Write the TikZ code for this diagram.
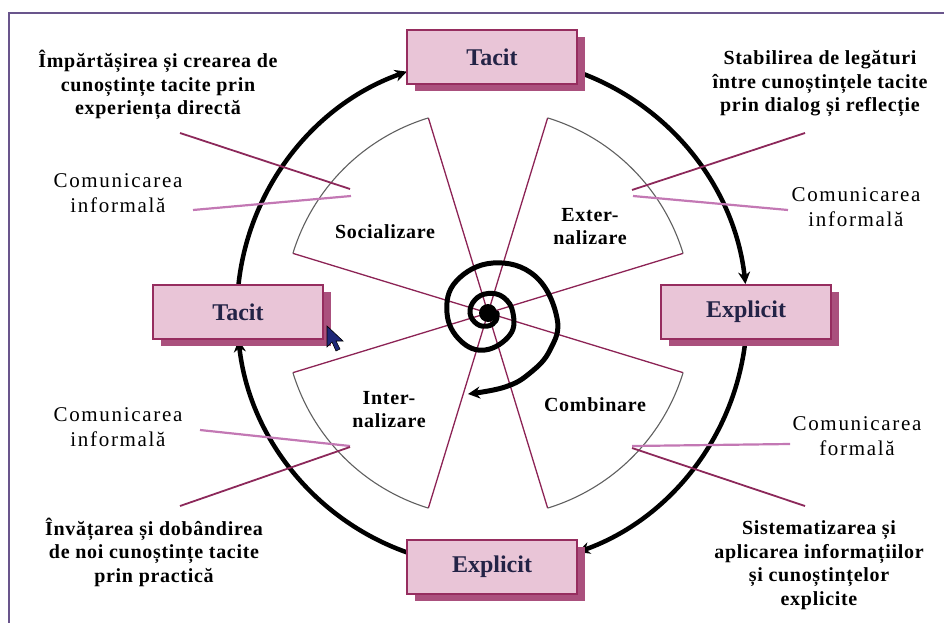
\documentclass[tikz,border=0pt]{standalone}
\usepackage{fontspec}
\setmainfont{Liberation Serif}
\newfontfamily\descfont[LetterSpace=3.5]{Liberation Serif}
\newfontfamily\commfont[LetterSpace=8]{Liberation Serif}
\usetikzlibrary{arrows.meta,shadows}
\definecolor{framecol}{RGB}{105,85,140}
\definecolor{raycol}{RGB}{140,35,85}
\definecolor{rimcol}{RGB}{95,95,95}
\definecolor{darkpin}{RGB}{140,40,90}
\definecolor{lightpin}{RGB}{195,120,180}
\definecolor{boxfill}{RGB}{233,197,215}
\definecolor{boxedge}{RGB}{150,45,95}
\definecolor{boxshade}{RGB}{170,80,125}
\definecolor{txtcol}{RGB}{35,35,70}
\definecolor{cursorcol}{RGB}{30,40,120}
\begin{document}
\begin{tikzpicture}[x=1pt,y=-1pt,
    cyc/.style={line width=4.5pt,-{Stealth[length=12pt,width=12pt]}},
    coil/.style={line width=5pt,line cap=round,-{Stealth[length=12pt,width=12pt]}},
    stage/.style={draw=boxedge,line width=1.1pt,fill=boxfill,minimum width=170pt,
        minimum height=54pt,text=txtcol,font=\bfseries\fontsize{24}{28}\selectfont,
        general shadow={fill=boxshade,shadow xshift=8pt,shadow yshift=-7pt}},
    ray/.style={draw=raycol,line width=1.3pt},
    rim/.style={draw=rimcol,line width=1.1pt},
    desc/.style={align=center,font=\descfont\bfseries\fontsize{20}{23.5}\selectfont},
    comm/.style={align=center,font=\commfont\fontsize{21}{25}\selectfont},
    sect/.style={align=center,font=\descfont\bfseries\fontsize{20}{23}\selectfont},
    dpin/.style={draw=darkpin,line width=1.8pt},
    lpin/.style={draw=lightpin,line width=2.2pt}]
    \useasboundingbox (0,0) rectangle (944,623);
    \draw[framecol,line width=1.5pt] (9,623) -- (9,13) -- (944,13);

    \coordinate (o) at (488,313);
    \coordinate (c) at (492,312);

    % the four sectors
    \foreach \a in {45,135,225,315}{
        \draw[ray] (o) -- ([shift={(\a-28:204)}]o);
        \draw[ray] (o) -- ([shift={(\a+28:204)}]o);
        \draw[rim] ([shift={(\a-28:204)}]o) arc[start angle=\a-28,end angle=\a+28,radius=204];
    }

    % cycle round the boxes
    \draw[cyc] ([shift={(-70.5:255)}]c) arc[start angle=-70.5,end angle=-6.3,radius=255];
    \draw[cyc] ([shift={(6.1:255)}]c) arc[start angle=6.1,end angle=70.3,radius=255];
    \draw[cyc] ([shift={(109.5:255)}]c) arc[start angle=109.5,end angle=173.7,radius=255];
    \draw[cyc] ([shift={(186.3:255)}]c) arc[start angle=186.3,end angle=250.5,radius=255];

    \node[stage] (tacitTop) at (492,57) {Tacit};
    \node[stage] (tacitLeft) at (238,312) {Tacit};
    \node[stage] (explRight) at (746,312) {Explicit};
    \node[stage] (explBottom) at (492,567) {Explicit};

    % texts
    \node[desc] (share) at (158,85) {Împărtășirea și crearea de\\cunoștințe tacite prin\\experiența directă};
    \node[comm] (comm1) at (118,193) {Comunicarea\\informală};
    \node[desc] (linkage) at (820,84) {Stabilirea de legături\\între cunoștințele tacite\\prin dialog și reflecție};
    \node[comm] (comm2) at (856,207) {Comunicarea\\informală};
    \node[comm] (comm3) at (118,427) {Comunicarea\\informală};
    \node[desc] (learn) at (154,552) {Învățarea și dobândirea\\de noi cunoștințe tacite\\prin practică};
    \node[comm] (comm4) at (857,436) {Comunicarea\\formală};
    \node[desc] (system) at (819,565) {Sistematizarea și\\aplicarea informațiilor\\și cunoștințelor\\explicite};

    \node[sect] (soc) at (385,232) {Socializare};
    \node[sect] (ext) at (590,227) {Exter-\\nalizare};
    \node[sect] (intl) at (389,410) {Inter-\\nalizare};
    \node[sect] (comb) at (595,405) {Combinare};

    % pointer lines
    \coordinate (sh1) at (180,133); \coordinate (sh2) at (350,189);
    \coordinate (ci1) at (193,210); \coordinate (ci2) at (351,196);
    \coordinate (li1) at (805,133); \coordinate (li2) at (632,190);
    \coordinate (cj1) at (788,210); \coordinate (cj2) at (633,196);
    \coordinate (ck1) at (200,430); \coordinate (ck2) at (350,446);
    \coordinate (le1) at (180,506); \coordinate (le2) at (350,447);
    \coordinate (cf1) at (790,444); \coordinate (cf2) at (632,446);
    \coordinate (sy1) at (805,506); \coordinate (sy2) at (632,448);
    \draw[dpin] (sh1) -- (sh2);
    \draw[lpin] (ci1) -- (ci2);
    \draw[dpin] (li1) -- (li2);
    \draw[lpin] (cj1) -- (cj2);
    \draw[lpin] (ck1) -- (ck2);
    \draw[dpin] (le1) -- (le2);
    \draw[lpin] (cf1) -- (cf2);
    \draw[dpin] (sy1) -- (sy2);

    % spiral
    \fill (o) circle[radius=9];
    \draw[coil] plot[smooth,tension=0.7] coordinates {(497,313) (495.8,320.8) (488,326)
        (477,324) (470,313) (474.9,299.9) (488,293.5) (503.6,297.4) (513,313)
        (509.9,334.9) (485,350) (460.4,340.6) (447,313) (456.2,281.2) (493,263)
        (535,276) (557,318) (550,350) (530,373) (505,387) (468,394)};

    % pointer of the mouse
    \filldraw[fill=cursorcol,draw=black,line width=0.6pt] (327,326) -- (327,347)
        -- (332,342) -- (336,351) -- (340,349) -- (336,341) -- (343,341) -- cycle;
\end{tikzpicture}
\end{document}
